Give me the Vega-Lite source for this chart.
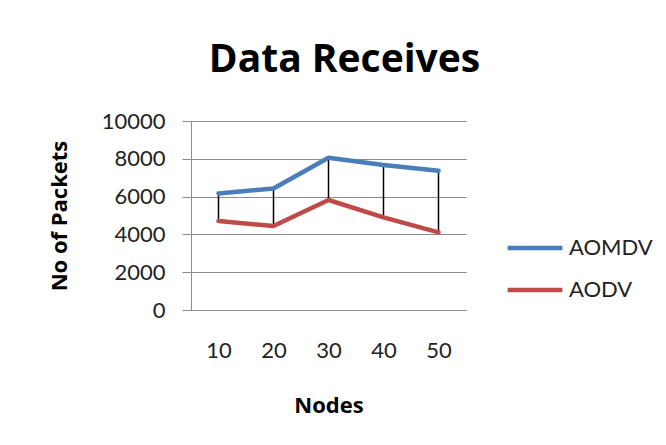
{
  "$schema": "https://vega.github.io/schema/vega-lite/v6.json",
  "autosize": "none",
  "width": 275,
  "height": 189,
  "padding": {"left": 191, "top": 121, "right": 200, "bottom": 135},
  "background": "white",
  "title": {
    "text": "Data Receives",
    "font": "Open Sans",
    "fontSize": 39,
    "fontWeight": "bold",
    "color": "#000000",
    "anchor": "middle",
    "dx": 16,
    "offset": 30
  },
  "data": {
    "values": [
      {"nodes": "10", "AOMDV": 6170, "AODV": 4710},
      {"nodes": "20", "AOMDV": 6430, "AODV": 4440},
      {"nodes": "30", "AOMDV": 8060, "AODV": 5820},
      {"nodes": "40", "AOMDV": 7670, "AODV": 4900},
      {"nodes": "50", "AOMDV": 7370, "AODV": 4110}
    ]
  },
  "config": {
    "view": {"stroke": null},
    "font": "Lato",
    "axisY": {
      "values": [0, 2000, 4000, 6000, 8000, 10000],
      "format": "d",
      "labelOverlap": false,
      "labelFont": "Lato",
      "labelFontSize": 22,
      "labelColor": "#222222",
      "labelPadding": 17,
      "tickSize": 9,
      "tickColor": "#8c8c8c",
      "domainColor": "#8c8c8c",
      "gridColor": "#8c8c8c",
      "grid": true,
      "titleFont": "Open Sans",
      "titleFontSize": 22,
      "titleFontWeight": "bold",
      "titleColor": "#000000",
      "titlePadding": 30
    }
  },
  "encoding": {
    "x": {
      "field": "nodes",
      "type": "ordinal",
      "scale": {"type": "point", "padding": 0.5},
      "axis": {
        "title": "Nodes",
        "labelAngle": 0,
        "labelAlign": "center",
        "labelFont": "Lato",
        "labelFontSize": 22,
        "labelColor": "#222222",
        "labelPadding": 30,
        "ticks": false,
        "domainColor": "#8c8c8c",
        "titleFont": "Open Sans",
        "titleFontSize": 22,
        "titleFontWeight": "bold",
        "titleColor": "#000000",
        "titlePadding": 34
      }
    }
  },
  "layer": [
    {
      "mark": {"type": "rule", "color": "#000000", "strokeWidth": 1.5},
      "encoding": {
        "y": {
          "field": "AOMDV",
          "type": "quantitative",
          "scale": {"domain": [0, 10000]},
          "axis": {"title": "No of Packets"}
        },
        "y2": {"field": "AODV"}
      }
    },
    {
      "transform": [{"fold": ["AOMDV", "AODV"], "as": ["series", "packets"]}],
      "mark": {"type": "line", "strokeWidth": 4.5, "strokeCap": "round", "strokeJoin": "round"},
      "encoding": {
        "y": {
          "field": "packets",
          "type": "quantitative",
          "scale": {"domain": [0, 10000]},
          "axis": {"title": "No of Packets"}
        },
        "color": {
          "field": "series",
          "type": "nominal",
          "sort": ["AOMDV", "AODV"],
          "scale": {"domain": ["AOMDV", "AODV"], "range": ["#4a7ebb", "#be4b48"]},
          "legend": {
            "title": null,
            "orient": "none",
            "legendX": 314,
            "legendY": 97,
            "padding": 0,
            "symbolType": "stroke",
            "symbolSize": 3000,
            "symbolStrokeWidth": 4.5,
            "labelFont": "Lato",
            "labelFontSize": 22,
            "labelColor": "#222222",
            "labelOffset": 4,
            "rowPadding": 1
          }
        }
      }
    }
  ]
}
